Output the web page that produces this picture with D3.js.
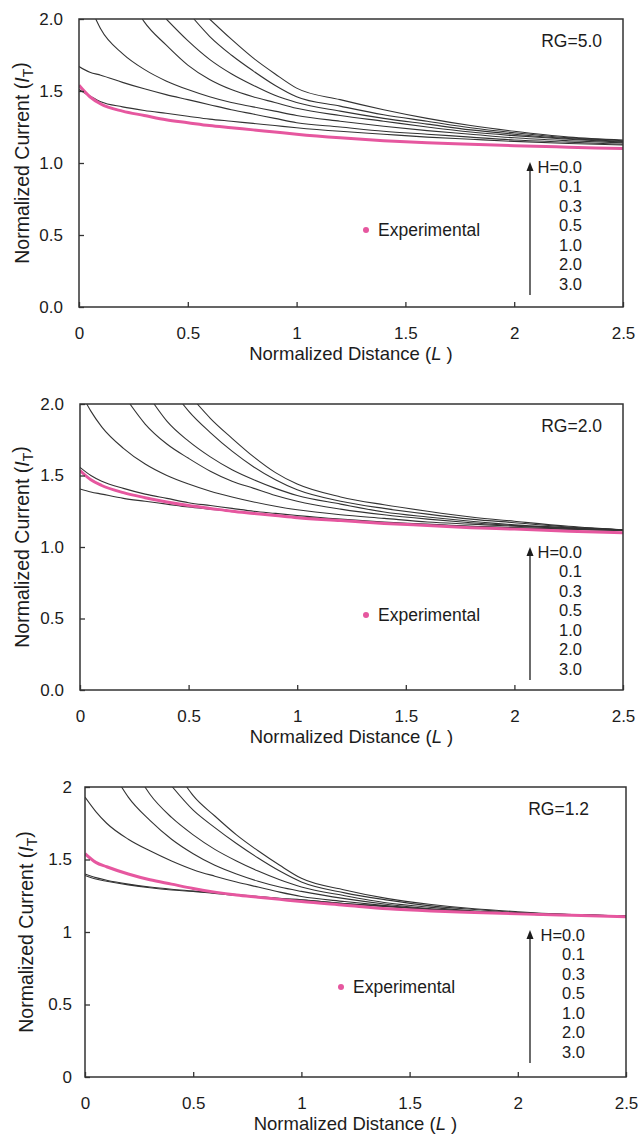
<!DOCTYPE html>
<html>
<head>
<meta charset="utf-8">
<script src="https://cdn.jsdelivr.net/npm/d3@7"></script>
<style>
  body { margin: 0; background: #fff; }
  svg { display: block; font-family: "Liberation Sans", Arial, sans-serif; }
</style>
</head>
<body>
<svg id="chart" width="639" height="1135"></svg>
<script>
// shared distance grid (L)
const distances = [0, 0.05, 0.1, 0.2, 0.3, 0.4, 0.5, 0.6, 0.7, 0.8, 0.9, 1.0, 1.2, 1.4, 1.6, 1.8, 2.0, 2.25, 2.5];
const hLabels = ["0.0", "0.1", "0.3", "0.5", "1.0", "2.0", "3.0"];
const xTicks = [0, 0.5, 1, 1.5, 2, 2.5];
const yTicks = [0, 0.5, 1, 1.5, 2];

// L where a curve comes down through I_T = 2 (null = starts inside the plot)
const rg50Cross = [0.60, 0.528, 0.401, 0.291, 0.077, null, null];
const rg50 = [
  [null, null, null, null, null, null, null, null, 1.86, 1.73, 1.62, 1.52, 1.44, 1.37, 1.31, 1.26, 1.22, 1.18, 1.16],
  [null, null, null, null, null, null, null, 1.88, 1.75, 1.64, 1.54, 1.46, 1.395, 1.335, 1.29, 1.245, 1.21, 1.175, 1.155],
  [null, null, null, null, null, null, 1.85, 1.72, 1.62, 1.54, 1.47, 1.42, 1.36, 1.31, 1.27, 1.23, 1.20, 1.17, 1.15],
  [null, null, null, null, 1.98, 1.82, 1.68, 1.58, 1.51, 1.46, 1.42, 1.38, 1.33, 1.29, 1.25, 1.215, 1.19, 1.165, 1.145],
  [null, null, 1.93, 1.76, 1.65, 1.57, 1.51, 1.46, 1.42, 1.39, 1.36, 1.33, 1.29, 1.255, 1.225, 1.20, 1.175, 1.155, 1.14],
  [1.67, 1.63, 1.61, 1.56, 1.515, 1.475, 1.44, 1.405, 1.37, 1.34, 1.31, 1.28, 1.25, 1.22, 1.20, 1.18, 1.16, 1.145, 1.13],
  [1.51, 1.465, 1.425, 1.39, 1.365, 1.345, 1.325, 1.305, 1.29, 1.275, 1.26, 1.245, 1.22, 1.20, 1.18, 1.165, 1.15, 1.135, 1.125]
];
const rg50Exp = [1.54, 1.46, 1.41, 1.36, 1.33, 1.30, 1.28, 1.26, 1.245, 1.23, 1.215, 1.20, 1.175, 1.155, 1.14, 1.13, 1.12, 1.11, 1.10];

const rg20Cross = [0.540, 0.473, 0.341, 0.230, 0.031, null, null];
const rg20 = [
  [null, null, null, null, null, null, null, 1.90, 1.76, 1.63, 1.52, 1.44, 1.35, 1.295, 1.25, 1.21, 1.18, 1.145, 1.12],
  [null, null, null, null, null, null, 1.95, 1.80, 1.67, 1.56, 1.47, 1.40, 1.32, 1.27, 1.23, 1.195, 1.17, 1.14, 1.12],
  [null, null, null, null, null, 1.88, 1.74, 1.63, 1.54, 1.47, 1.41, 1.36, 1.30, 1.245, 1.21, 1.18, 1.155, 1.135, 1.12],
  [null, null, null, null, 1.86, 1.72, 1.62, 1.53, 1.46, 1.41, 1.36, 1.32, 1.265, 1.225, 1.195, 1.17, 1.15, 1.135, 1.12],
  [null, 1.95, 1.84, 1.69, 1.58, 1.50, 1.44, 1.39, 1.35, 1.315, 1.285, 1.26, 1.225, 1.20, 1.175, 1.16, 1.145, 1.13, 1.12],
  [1.557, 1.50, 1.46, 1.41, 1.37, 1.34, 1.31, 1.29, 1.27, 1.25, 1.235, 1.22, 1.195, 1.175, 1.16, 1.145, 1.135, 1.125, 1.115],
  [1.406, 1.385, 1.37, 1.34, 1.32, 1.30, 1.28, 1.265, 1.25, 1.235, 1.22, 1.21, 1.19, 1.17, 1.155, 1.145, 1.135, 1.125, 1.115]
];
const rg20Exp = [1.535, 1.47, 1.43, 1.38, 1.345, 1.315, 1.29, 1.27, 1.25, 1.235, 1.22, 1.205, 1.185, 1.165, 1.15, 1.135, 1.125, 1.11, 1.10];

const rg12Cross = [0.470, 0.404, 0.277, 0.169, null, null, null];
const rg12 = [
  [null, null, null, null, null, null, 1.94, 1.80, 1.67, 1.56, 1.46, 1.37, 1.29, 1.23, 1.19, 1.16, 1.14, 1.12, 1.11],
  [null, null, null, null, null, null, 1.84, 1.72, 1.61, 1.51, 1.42, 1.345, 1.27, 1.22, 1.18, 1.155, 1.135, 1.12, 1.11],
  [null, null, null, null, 1.95, 1.79, 1.67, 1.57, 1.49, 1.42, 1.36, 1.31, 1.25, 1.20, 1.17, 1.145, 1.13, 1.115, 1.11],
  [null, null, null, 1.93, 1.77, 1.64, 1.54, 1.46, 1.40, 1.35, 1.31, 1.28, 1.23, 1.19, 1.16, 1.14, 1.125, 1.115, 1.11],
  [1.93, 1.83, 1.75, 1.64, 1.56, 1.49, 1.43, 1.385, 1.345, 1.31, 1.275, 1.245, 1.21, 1.18, 1.155, 1.14, 1.125, 1.115, 1.11],
  [1.40, 1.375, 1.357, 1.33, 1.31, 1.295, 1.283, 1.27, 1.258, 1.245, 1.232, 1.222, 1.197, 1.177, 1.157, 1.142, 1.131, 1.12, 1.11],
  [1.39, 1.365, 1.35, 1.325, 1.305, 1.29, 1.28, 1.265, 1.253, 1.24, 1.228, 1.22, 1.195, 1.175, 1.155, 1.14, 1.13, 1.12, 1.11]
];
const rg12Exp = [1.54, 1.48, 1.45, 1.40, 1.36, 1.33, 1.30, 1.275, 1.255, 1.24, 1.225, 1.21, 1.185, 1.16, 1.145, 1.135, 1.125, 1.115, 1.105];

const pink = "#e6579f";
const ink = "#1c1c1c";

const panels = [
  { top: 19, bottom: 307, left: 79, right: 623, label: "RG=5.0", labelInset: 21, fmt: d3.format(".1f"), padY: 16,
    titleX: 22, curves: rg50, cross: rg50Cross, exp: rg50Exp, expPos: [287, 211], legendX: 530, legendRight: 582 },
  { top: 404, bottom: 690, left: 80, right: 623, label: "RG=2.0", labelInset: 21, fmt: d3.format(".1f"), padY: 16,
    titleX: 22, curves: rg20, cross: rg20Cross, exp: rg20Exp, expPos: [286, 211], legendX: 530, legendRight: 582 },
  { top: 787, bottom: 1077, left: 85, right: 626, label: "RG=1.2", labelInset: 37, fmt: d3.format(""), padY: 13,
    titleX: 26, curves: rg12, cross: rg12Cross, exp: rg12Exp, expPos: [256, 200], legendX: 530, legendRight: 585 }
];

const svg = d3.select("#chart");

panels.forEach((p, pi) => {
  const x = d3.scaleLinear().domain([0, 2.5]).range([p.left, p.right]);
  const y = d3.scaleLinear().domain([0, 2]).range([p.bottom, p.top]);
  const g = svg.append("g");

  const clipId = "clip" + pi;
  svg.append("clipPath").attr("id", clipId)
    .append("rect")
    .attr("x", p.left).attr("y", p.top)
    .attr("width", p.right - p.left).attr("height", p.bottom - p.top);

  const line = d3.line()
    .x(d => x(d.L))
    .y(d => y(d.v))
    .curve(d3.curveMonotoneX);

  const plot = g.append("g").attr("clip-path", `url(#${clipId})`);

  p.curves.forEach((vals, ci) => {
    let pts = distances.map((L, i) => ({ L, v: vals[i] })).filter(d => d.v != null);
    if (p.cross[ci] != null) pts = [{ L: p.cross[ci], v: 2 }].concat(pts.filter(d => d.L > p.cross[ci]));
    plot.append("path")
      .attr("d", line(pts))
      .attr("fill", "none")
      .attr("stroke", "#333")
      .attr("stroke-width", 1.1);
  });

  plot.append("path")
    .attr("d", line(distances.map((L, i) => ({ L, v: p.exp[i] }))))
    .attr("fill", "none")
    .attr("stroke", pink)
    .attr("stroke-width", 3);

  // axes with inward ticks
  const xAxis = g.append("g")
    .attr("transform", `translate(0,${p.bottom})`)
    .call(d3.axisBottom(x).tickValues(xTicks).tickFormat(d3.format("")).tickSize(-5).tickPadding(20));
  const yAxis = g.append("g")
    .attr("transform", `translate(${p.left},0)`)
    .call(d3.axisLeft(y).tickValues(yTicks).tickFormat(p.fmt).tickSize(-5).tickPadding(p.padY));
  [xAxis, yAxis].forEach(a => {
    a.select(".domain").remove();
    a.selectAll(".tick line").attr("stroke", "#333").attr("stroke-width", 1.3);
    a.selectAll(".tick text").attr("fill", ink).style("font-size", "17px").style("font-family", "Liberation Sans, Arial, sans-serif");
  });

  g.append("rect")
    .attr("x", p.left).attr("y", p.top)
    .attr("width", p.right - p.left).attr("height", p.bottom - p.top)
    .attr("fill", "none").attr("stroke", "#333").attr("stroke-width", 1.5);

  // axis titles
  const xt = g.append("text")
    .attr("x", (p.left + p.right) / 2).attr("y", p.bottom + 53)
    .attr("text-anchor", "middle").attr("fill", ink).style("font-size", "18.5px");
  xt.append("tspan").text("Normalized Distance (");
  xt.append("tspan").attr("font-style", "italic").text("L");
  xt.append("tspan").text(" )");

  const cy = (p.top + p.bottom) / 2;
  const yt = g.append("text")
    .attr("transform", `translate(${p.titleX},${cy}) rotate(-90)`)
    .attr("text-anchor", "middle").attr("dy", "0.35em").attr("fill", ink).style("font-size", "19.5px");
  yt.append("tspan").text("Normalized Current (");
  yt.append("tspan").attr("font-style", "italic").text("I");
  yt.append("tspan").attr("dy", "0.3em").style("font-size", "14px").text("T");
  yt.append("tspan").attr("dy", "-0.3em").text(")");

  // RG label
  g.append("text")
    .attr("x", p.right - p.labelInset).attr("y", p.top + 22).attr("dy", "0.35em")
    .attr("text-anchor", "end").attr("fill", ink).style("font-size", "17.5px")
    .text(p.label);

  // experimental legend
  g.append("circle")
    .attr("cx", p.left + p.expPos[0]).attr("cy", p.top + p.expPos[1]).attr("r", 3)
    .attr("fill", pink);
  g.append("text")
    .attr("x", p.left + p.expPos[0] + 12).attr("y", p.top + p.expPos[1]).attr("dy", "0.35em")
    .attr("fill", ink).style("font-size", "17.5px").text("Experimental");

  // H legend with arrow
  const lx = p.legendX;
  g.append("line")
    .attr("x1", lx).attr("x2", lx)
    .attr("y1", p.top + 276).attr("y2", p.top + 150)
    .attr("stroke", ink).attr("stroke-width", 1.3);
  g.append("path")
    .attr("d", `M${lx},${p.top + 143} L${lx - 3.5},${p.top + 152} L${lx + 3.5},${p.top + 152} Z`)
    .attr("fill", ink);
  hLabels.forEach((h, i) => {
    g.append("text")
      .attr("x", p.legendRight).attr("y", p.top + 148 + i * 19.5).attr("dy", "0.35em")
      .attr("text-anchor", "end").attr("fill", ink).style("font-size", "16.5px")
      .text(i === 0 ? "H=" + h : h);
  });
});
</script>
</body>
</html>
